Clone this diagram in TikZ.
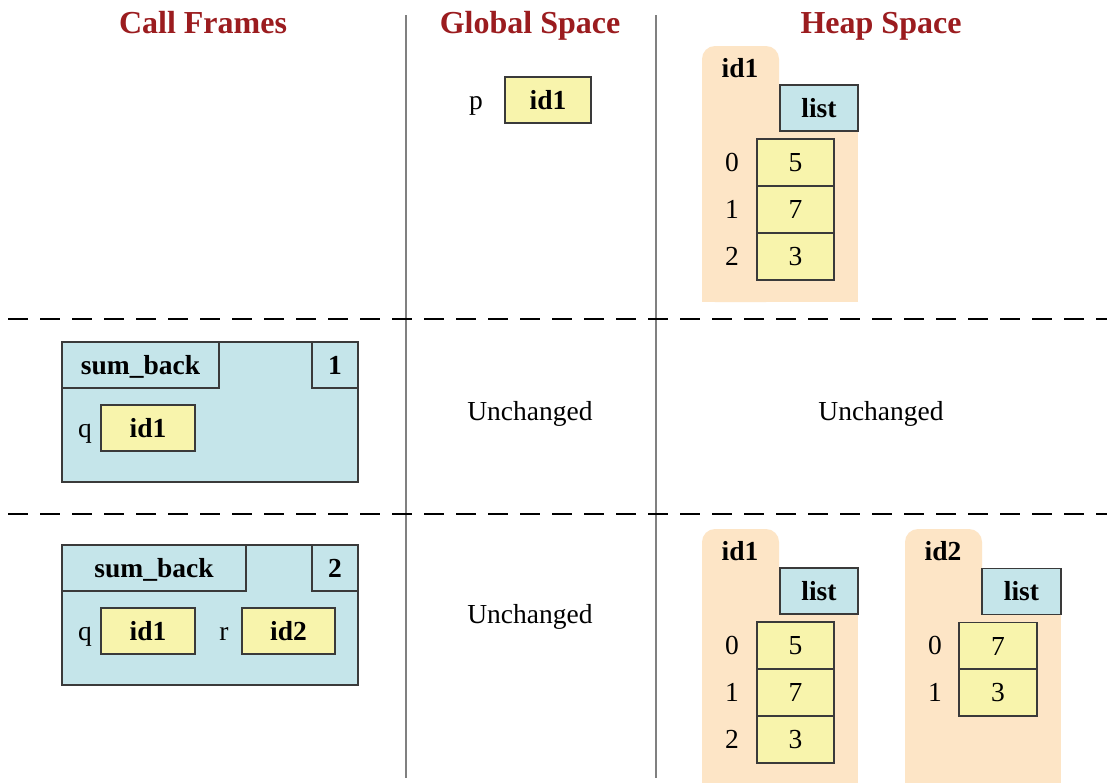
\documentclass[tikz,border=0pt]{standalone}
\usepackage{fontspec}
\setmainfont{Liberation Serif}
\definecolor{titlered}{HTML}{9B1C1F}
\definecolor{folderpeach}{HTML}{FDE5C6}
\definecolor{frameblue}{HTML}{C5E5EA}
\definecolor{cellyellow}{HTML}{F8F4AC}
\definecolor{edgegray}{HTML}{3A3A3A}
\definecolor{sepgray}{HTML}{808080}
\begin{document}
\begin{tikzpicture}[x=1pt,y=-1pt,
  title/.style={font=\bfseries\fontsize{32}{38}\selectfont, text=titlered, anchor=base},
  plain/.style={font=\fontsize{27.5}{33}\selectfont, anchor=base, inner sep=0pt},
  boxbase/.style={draw=edgegray, line width=1.3pt, inner sep=0pt, text height=18.6pt, text depth=0pt, font=\fontsize{27.5}{33}\selectfont},
  cell/.style={boxbase, fill=cellyellow, minimum width=77pt, minimum height=47pt},
  valbox/.style={boxbase, fill=cellyellow, font=\bfseries\fontsize{27.5}{33}\selectfont, minimum height=46pt},
  listbox/.style={boxbase, fill=frameblue, font=\bfseries\fontsize{27.5}{33}\selectfont, minimum width=78pt, minimum height=46pt},
  framebox/.style={draw=edgegray, line width=1.3pt, fill=frameblue, inner sep=0pt, minimum width=296pt, minimum height=140pt},
  headbox/.style={boxbase, fill=frameblue, font=\bfseries\fontsize{27.5}{33}\selectfont, minimum height=46pt},
  folder/.style={fill=folderpeach},
  sep/.style={draw=sepgray, line width=1.3pt},
  rowsep/.style={draw=black, line width=2.6pt, dash pattern=on 20pt off 12pt}
]
\useasboundingbox (0,0) rectangle (1107,782);
\fill[white] (0,0) rectangle (1107,782);

% separators
\coordinate (v1t) at (406,15); \coordinate (v1b) at (406,778);
\coordinate (v2t) at (656,15); \coordinate (v2b) at (656,778);
\draw[sep] (v1t) -- (v1b);
\draw[sep] (v2t) -- (v2b);
\coordinate (h1l) at (8,319); \coordinate (h1r) at (1107,319);
\coordinate (h2l) at (8,514); \coordinate (h2r) at (1107,514);
\draw[rowsep] (h1l) -- (h1r);
\draw[rowsep] (h2l) -- (h2r);

% titles
\node[title] (t1) at (203,33) {Call Frames};
\node[title] (t2) at (530,33) {Global Space};
\node[title] (t3) at (881,33) {Heap Space};

% global space row 1
\node[valbox, minimum width=86pt] (gp) at (548,100) {id1};
\node[plain] (gpl) at (476,109) {p};

% heap row 1
\fill[folder, rounded corners=13pt] (702,302) rectangle (779,46);
\fill[folder] (702,85) rectangle (858,302);
\node[plain, font=\bfseries\fontsize{27.5}{33}\selectfont] (h1id) at (740,77) {id1};
\node[listbox] (h1list) at (819,108) {list};
\node[cell] (h1c0) at (795.5,162.5) {5};
\node[cell] (h1c1) at (795.5,209.5) {7};
\node[cell] (h1c2) at (795.5,256.5) {3};
\node[plain] (h1i0) at (732,171) {0};
\node[plain] (h1i1) at (732,218) {1};
\node[plain] (h1i2) at (732,265) {2};

% row 2
\node[framebox] (fr1) at (210,412) {};
\node[headbox, minimum width=157pt] (fr1n) at (140.5,365) {sum\_back};
\node[headbox, minimum width=46pt] (fr1k) at (335,365) {1};
\node[valbox, minimum width=94pt] (fr1q) at (148,428) {id1};
\node[plain] (fr1ql) at (85,437) {q};
\node[plain] (un1) at (530,420) {Unchanged};
\node[plain] (un2) at (881,420) {Unchanged};

% row 3
\node[framebox] (fr2) at (210,615) {};
\node[headbox, minimum width=184pt] (fr2n) at (154,568) {sum\_back};
\node[headbox, minimum width=46pt] (fr2k) at (335,568) {2};
\node[valbox, minimum width=94pt] (fr2q) at (148,631) {id1};
\node[plain] (fr2ql) at (85,640) {q};
\node[valbox, minimum width=93pt] (fr2r) at (288.5,631) {id2};
\node[plain] (fr2rl) at (224,640) {r};
\node[plain] (un3) at (530,623) {Unchanged};

% heap row 3, id1
\fill[folder, rounded corners=13pt] (702,800) rectangle (779,529);
\fill[folder] (702,568) rectangle (858,800);
\node[plain, font=\bfseries\fontsize{27.5}{33}\selectfont] (h2id) at (740,560) {id1};
\node[listbox] (h2list) at (819,591) {list};
\node[cell] (h2c0) at (795.5,645.5) {5};
\node[cell] (h2c1) at (795.5,692.5) {7};
\node[cell] (h2c2) at (795.5,739.5) {3};
\node[plain] (h2i0) at (732,654) {0};
\node[plain] (h2i1) at (732,701) {1};
\node[plain] (h2i2) at (732,748) {2};

% heap row 3, id2
\fill[folder, rounded corners=13pt] (905,800) rectangle (982,529);
\fill[folder] (905,568) rectangle (1061,800);
\node[plain, font=\bfseries\fontsize{27.5}{33}\selectfont] (h3id) at (943,560) {id2};
\node[listbox, minimum width=79pt] (h3list) at (1021.5,591.5) {list};
\node[cell, minimum width=78pt] (h3c0) at (998,646) {7};
\node[cell, minimum width=78pt] (h3c1) at (998,692.5) {3};
\node[plain] (h3i0) at (935,654) {0};
\node[plain] (h3i1) at (935,701) {1};
\end{tikzpicture}
\end{document}
